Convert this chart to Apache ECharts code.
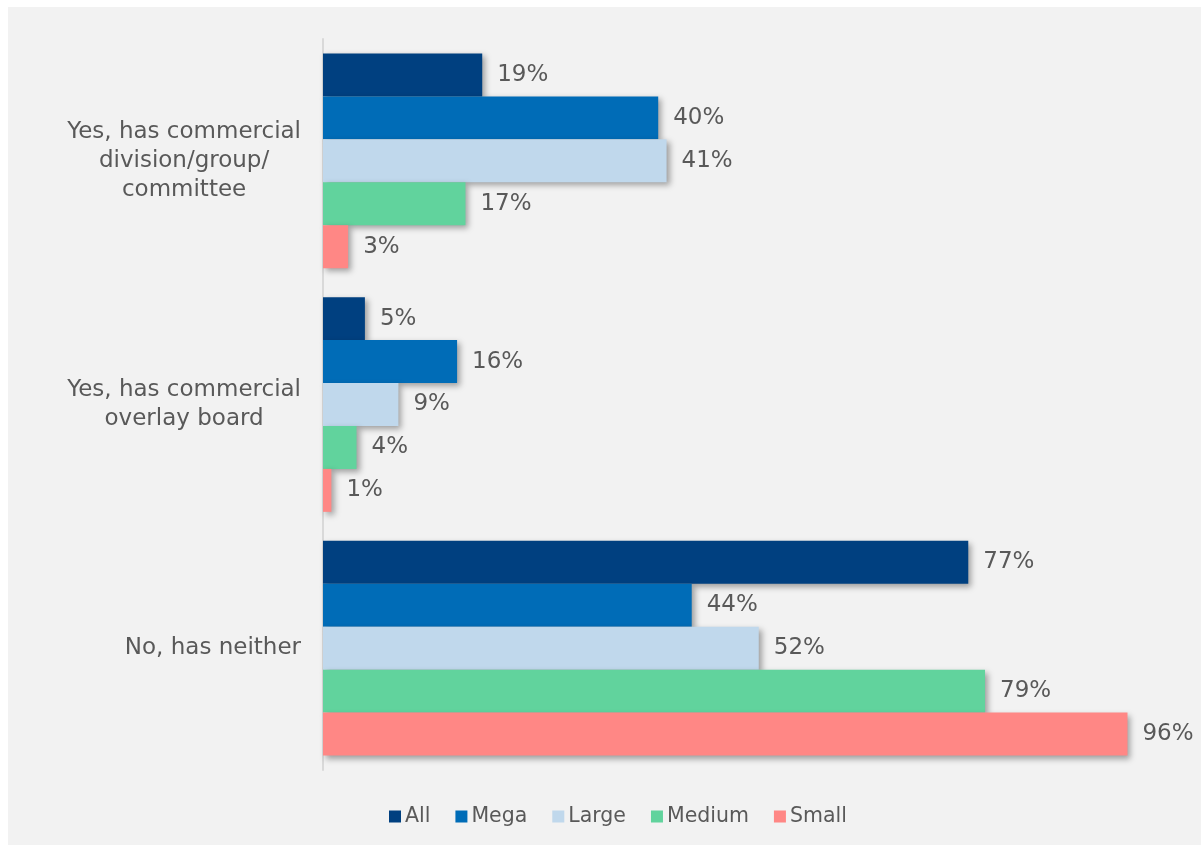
<!DOCTYPE html>
<html>
<head>
<meta charset="utf-8">
<script src="https://cdn.jsdelivr.net/npm/echarts@6/dist/echarts.min.js"></script>
<style>
  html, body { margin: 0; padding: 0; background: #ffffff; }
  #chart { width: 1201px; height: 845px; }
</style>
</head>
<body>
<div id="chart"></div>
<script>
// Survey categories (top to bottom)
const categories = [
  'Yes, has commercial\ndivision/group/\ncommittee',
  'Yes, has commercial\noverlay board',
  'No, has neither'
];

// Share of respondents (%) per size group
const seriesNames = ['All', 'Mega', 'Large', 'Medium', 'Small'];
const allValues    = [19, 5, 77];
const megaValues   = [40, 16, 44];
const largeValues  = [41, 9, 52];
const mediumValues = [17, 4, 79];
const smallValues  = [3, 1, 96];

const seriesColors = ['#004080', '#006cb7', '#c0d8ec', '#61d39d', '#ff8785'];
const seriesValues = [allValues, megaValues, largeValues, mediumValues, smallValues];

const FONT = 'DejaVu Sans';
const TEXT = '#595959';

const chart = echarts.init(document.getElementById('chart'), null, { renderer: 'canvas' });

const series = seriesNames.map((name, i) => ({
  name: name,
  type: 'bar',
  data: seriesValues[i],
  barGap: '0%',
  barCategoryGap: '11.9%',
  itemStyle: {
    color: seriesColors[i],
    shadowBlur: 6,
    shadowOffsetX: 3,
    shadowOffsetY: 3,
    shadowColor: 'rgba(0,0,0,0.35)'
  },
  label: {
    show: true,
    position: 'right',
    distance: 15,
    formatter: '{c}%',
    fontFamily: FONT,
    fontSize: 23,
    color: TEXT
  },
  emphasis: { disabled: true }
}));

chart.setOption({
  backgroundColor: '#ffffff',
  animation: false,
  graphic: [{
    type: 'rect',
    silent: true,
    z: -10,
    shape: { x: 8, y: 7, width: 1193, height: 838 },
    style: { fill: '#f2f2f2' }
  }],
  grid: { left: 323, top: 39, width: 838, height: 731, containLabel: false },
  legend: {
    data: seriesNames,
    left: 384,
    top: 801,
    icon: 'rect',
    itemWidth: 12,
    itemHeight: 12,
    itemGap: 25,
    itemStyle: { borderWidth: 0 },
    textStyle: { fontFamily: FONT, fontSize: 20.5, color: TEXT, padding: [0, 0, 0, -1] }
  },
  xAxis: {
    type: 'value',
    min: 0,
    max: 100,
    show: false
  },
  yAxis: {
    type: 'category',
    inverse: true,
    data: categories,
    axisLine: { show: true, lineStyle: { color: '#d9d9d9', width: 2 } },
    axisTick: { show: false },
    axisLabel: {
      margin: 22,
      fontFamily: FONT,
      fontSize: 23,
      lineHeight: 29,
      color: TEXT,
      formatter: v => v.split('\n').map(l => '{c|' + l + '}').join('\n'),
      rich: {
        c: { align: 'center', fontFamily: FONT, fontSize: 23, lineHeight: 29, color: TEXT }
      }
    },
    splitLine: { show: false }
  },
  series: series
});
</script>
</body>
</html>
